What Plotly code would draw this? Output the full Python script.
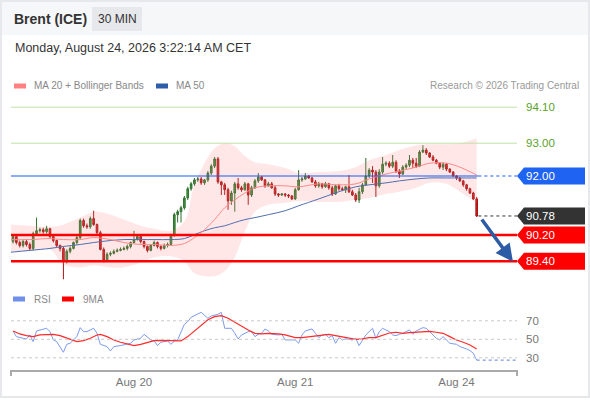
import plotly.graph_objects as go

# --- candles (30 min) ---
opens = [
    90.00, 90.15, 89.97, 89.88, 90.00, 89.91, 89.79, 90.24, 90.33, 90.36,
    90.30, 90.39, 90.15, 90.03, 89.88, 89.79, 89.39, 89.70, 89.79, 89.97,
    90.12, 90.64, 90.48, 90.45, 90.70, 90.52, 90.27, 89.76, 89.42, 89.61,
    89.64, 89.70, 89.73, 89.76, 89.79, 89.85, 89.97, 90.06, 90.15, 90.00,
    89.85, 89.73, 89.88, 89.97, 89.85, 89.79, 89.88, 89.91, 90.18, 90.82,
    90.91, 91.03, 91.33, 91.61, 91.76, 91.88, 91.91, 91.79, 91.88, 92.09,
    92.30, 92.52, 91.82, 91.73, 91.58, 91.24, 91.48, 91.76, 91.64, 91.58,
    91.76, 91.42, 91.64, 91.85, 91.97, 91.88, 91.70, 91.76, 91.64, 91.45,
    91.42, 91.45, 91.42, 91.39, 91.30, 91.58, 91.88, 91.91, 92.00, 91.94,
    91.82, 91.70, 91.76, 91.67, 91.76, 91.64, 91.45, 91.70, 91.61, 91.58,
    91.67, 91.52, 91.42, 91.27, 91.52, 91.73, 92.00, 92.18, 92.12, 91.70,
    92.12, 92.36, 92.39, 92.30, 92.42, 92.15, 92.06, 92.27, 92.33, 92.48,
    92.39, 92.30, 92.73, 92.79, 92.70, 92.58, 92.48, 92.39, 92.27, 92.36,
    92.21, 92.12, 92.00, 91.94, 91.85, 91.73, 91.61, 91.48, 91.30,
]
highs = [
    90.21, 90.18, 90.03, 90.06, 90.06, 89.97, 90.30, 90.73, 90.42, 90.42,
    90.48, 90.42, 90.18, 90.06, 89.91, 89.85, 89.76, 89.85, 90.00, 90.18,
    90.70, 90.70, 90.55, 90.76, 90.94, 90.55, 90.33, 89.82, 89.67, 89.70,
    89.76, 89.79, 89.82, 89.85, 89.91, 90.00, 90.33, 90.21, 90.18, 90.03,
    89.88, 89.91, 90.03, 90.00, 89.88, 89.94, 89.97, 90.24, 90.88, 90.97,
    91.09, 91.39, 91.67, 91.82, 91.94, 91.97, 91.97, 91.91, 92.15, 92.36,
    92.58, 92.58, 91.85, 91.79, 91.64, 91.55, 91.82, 91.94, 91.70, 91.82,
    91.79, 91.70, 91.91, 92.09, 92.00, 91.91, 91.82, 91.82, 91.70, 91.48,
    91.48, 91.48, 91.45, 91.42, 91.64, 92.18, 91.97, 92.09, 92.03, 91.97,
    91.88, 91.82, 91.79, 91.82, 91.79, 91.70, 91.73, 91.76, 91.67, 91.70,
    92.03, 91.58, 91.48, 91.64, 91.79, 92.55, 92.24, 92.30, 92.18, 92.21,
    92.58, 92.45, 92.45, 92.64, 92.48, 92.21, 92.33, 92.39, 92.64, 92.55,
    92.55, 92.79, 92.94, 92.85, 92.73, 92.64, 92.52, 92.42, 92.42, 92.39,
    92.24, 92.15, 92.03, 91.97, 91.88, 91.76, 91.64, 91.52, 91.36,
]
lows = [
    89.94, 89.91, 89.82, 89.82, 89.85, 89.73, 89.73, 90.21, 90.27, 90.24,
    90.24, 90.09, 89.97, 89.82, 89.70, 88.85, 89.33, 89.64, 89.76, 89.91,
    90.06, 90.42, 90.39, 90.39, 90.48, 90.21, 89.73, 89.36, 89.39, 89.55,
    89.61, 89.67, 89.70, 89.73, 89.73, 89.79, 89.94, 90.03, 89.94, 89.79,
    89.67, 89.70, 89.85, 89.79, 89.73, 89.76, 89.82, 89.88, 90.15, 90.58,
    90.58, 90.97, 91.27, 91.55, 91.70, 91.82, 91.73, 91.73, 91.82, 92.03,
    92.24, 91.76, 91.42, 91.42, 90.97, 91.12, 90.91, 91.58, 91.52, 91.55,
    91.12, 91.36, 91.61, 91.79, 91.85, 91.64, 91.67, 91.61, 91.39, 91.36,
    91.39, 91.36, 91.33, 91.27, 91.27, 91.55, 91.82, 91.88, 91.91, 91.79,
    91.64, 91.64, 91.61, 91.64, 91.58, 91.39, 91.42, 91.55, 91.55, 91.48,
    91.48, 91.39, 91.21, 91.18, 91.45, 91.70, 91.94, 91.79, 91.36, 91.64,
    92.06, 92.30, 92.24, 92.24, 92.09, 91.94, 92.03, 92.21, 92.27, 92.24,
    92.24, 92.27, 92.70, 92.64, 92.55, 92.45, 92.36, 92.21, 92.18, 92.15,
    92.09, 91.97, 91.88, 91.82, 91.67, 91.55, 91.45, 91.27, 90.75,
]
closes = [
    90.15, 89.97, 89.88, 90.00, 89.91, 89.79, 90.24, 90.33, 90.36, 90.30,
    90.39, 90.15, 90.03, 89.88, 89.79, 89.39, 89.70, 89.79, 89.97, 90.12,
    90.64, 90.48, 90.45, 90.70, 90.52, 90.27, 89.76, 89.42, 89.61, 89.64,
    89.70, 89.73, 89.76, 89.79, 89.85, 89.97, 90.06, 90.15, 90.00, 89.85,
    89.73, 89.88, 89.97, 89.85, 89.79, 89.88, 89.91, 90.18, 90.82, 90.91,
    91.03, 91.33, 91.61, 91.76, 91.88, 91.91, 91.79, 91.88, 92.09, 92.30,
    92.52, 91.82, 91.73, 91.58, 91.24, 91.48, 91.76, 91.64, 91.58, 91.76,
    91.42, 91.64, 91.85, 91.97, 91.88, 91.70, 91.76, 91.64, 91.45, 91.42,
    91.45, 91.42, 91.39, 91.30, 91.58, 91.88, 91.91, 92.00, 91.94, 91.82,
    91.70, 91.76, 91.67, 91.76, 91.64, 91.45, 91.70, 91.61, 91.58, 91.67,
    91.52, 91.42, 91.27, 91.52, 91.73, 92.00, 92.18, 92.12, 91.70, 92.12,
    92.36, 92.39, 92.30, 92.42, 92.15, 92.06, 92.27, 92.33, 92.48, 92.39,
    92.30, 92.73, 92.79, 92.70, 92.58, 92.48, 92.39, 92.27, 92.36, 92.21,
    92.12, 92.00, 91.94, 91.85, 91.73, 91.61, 91.48, 91.30, 90.78,
]

# --- MA 20 + Bollinger, MA 50 (read at sampled candles) ---
ind_idx = [-1, 5, 11, 15, 20, 24, 29, 33, 38, 42, 47, 51, 54, 57, 60, 63, 66,
           69, 72, 76, 81, 85, 91, 97, 102, 106, 111, 115, 120, 124, 129, 133, 138]
bb_upper = [90.52, 90.48, 90.45, 90.52, 90.73, 90.91, 90.82, 90.67, 90.48, 90.39,
            90.33, 90.61, 91.73, 92.39, 92.85, 93.00, 92.91, 92.61, 92.42, 92.36,
            92.24, 92.09, 92.12, 92.15, 92.27, 92.48, 92.64, 92.79, 92.94, 92.97,
            92.97, 93.00, 93.15]
bb_lower = [89.70, 89.70, 89.76, 89.30, 89.21, 89.27, 89.21, 89.21, 89.36, 89.52,
            89.55, 89.39, 89.03, 88.94, 88.94, 89.09, 89.52, 90.30, 90.91, 91.12,
            91.18, 91.24, 91.21, 91.21, 91.27, 91.33, 91.45, 91.52, 91.64, 91.79,
            91.76, 91.52, 91.18]
ma20 = [90.06, 90.06, 90.09, 90.06, 90.06, 90.12, 90.06, 89.97, 89.91, 89.91,
        89.88, 89.94, 90.12, 90.36, 90.67, 91.03, 91.27, 91.48, 91.64, 91.70,
        91.70, 91.67, 91.76, 91.73, 91.76, 91.91, 92.06, 92.15, 92.27, 92.39,
        92.39, 92.27, 92.03]
ma50 = [89.67, 89.73, 89.79, 89.85, 89.91, 89.97, 90.03, 90.06, 90.06, 90.06,
        90.06, 90.09, 90.21, 90.33, 90.42, 90.48, 90.58, 90.67, 90.73, 90.82,
        90.94, 91.09, 91.30, 91.52, 91.67, 91.73, 91.79, 91.85, 91.91, 91.94,
        91.94, 91.94, 91.94]

# --- RSI ---
rsi_idx = [0, 1, 3, 4, 5, 6, 7, 8, 10, 11, 12, 13, 14, 15, 16, 17, 19, 20, 21, 22,
           24, 25, 26, 28, 29, 30, 32, 33, 35, 36, 38, 39, 41, 42, 43, 44, 46, 47,
           48, 49, 51, 52, 53, 55, 56, 58, 59, 61, 62, 63, 65, 66, 67, 68, 70, 71,
           72, 73, 74, 75, 76, 77, 79, 80, 81, 82, 84, 85, 86, 87, 89, 90, 91, 92,
           93, 94, 95, 96, 97, 98, 99, 101, 102, 103, 104, 105, 107, 108, 109, 110,
           111, 112, 113, 114, 115, 116, 118, 119, 120, 122, 123, 124, 125, 126,
           127, 128, 129, 130, 132, 133, 135, 136, 137, 138]
rsi = [59.0, 52.9, 51.1, 50.4, 54.7, 47.5, 59.0, 60.1, 61.9, 58.3, 49.3, 47.5,
       42.1, 36.0, 44.6, 45.7, 52.9, 62.6, 58.3, 58.3, 61.9, 56.5, 44.6, 42.1,
       37.4, 42.1, 43.2, 43.9, 45.7, 49.3, 51.1, 55.4, 49.3, 48.2, 43.2, 46.8,
       48.2, 44.6, 48.2, 49.3, 66.2, 69.1, 73.8, 77.4, 79.2, 72.7, 75.2, 77.0,
       79.2, 61.9, 61.9, 56.5, 50.4, 54.7, 58.3, 58.3, 52.9, 55.4, 56.5, 61.2,
       59.0, 55.4, 54.7, 55.4, 49.3, 49.3, 49.3, 45.7, 54.7, 59.0, 61.2, 56.5,
       51.8, 54.7, 55.4, 51.8, 54.0, 45.7, 51.8, 49.3, 50.4, 49.3, 51.1, 43.2,
       49.3, 54.7, 61.9, 51.1, 58.3, 61.9, 60.1, 58.3, 54.7, 54.0, 55.4, 56.5,
       60.1, 55.4, 59.0, 62.6, 61.9, 58.3, 54.7, 51.1, 49.3, 52.9, 49.3, 45.7,
       44.6, 42.1, 39.6, 37.8, 34.9, 27.5]
ma9_idx = [0, 2, 4, 6, 8, 10, 12, 14, 16, 18, 19, 21, 23, 25, 26, 28, 30, 32, 34,
           36, 38, 40, 42, 44, 46, 48, 50, 52, 54, 56, 58, 60, 62, 64, 66, 68, 70,
           72, 74, 76, 77, 79, 81, 83, 84, 86, 88, 90, 92, 94, 96, 98, 100, 102,
           104, 106, 108, 110, 112, 114, 116, 118, 120, 122, 124, 126, 128, 130,
           132, 134, 136, 138]
ma9 = [59.0, 55.8, 54.0, 52.9, 54.7, 55.4, 55.4, 54.0, 51.1, 48.6, 47.5, 48.6,
       51.1, 54.7, 55.4, 52.9, 49.3, 46.8, 44.6, 43.2, 44.6, 46.8, 48.6, 48.9,
       48.9, 48.2, 48.2, 52.9, 59.0, 65.5, 71.2, 74.5, 75.6, 72.7, 68.4, 63.7,
       60.1, 56.5, 55.8, 56.5, 56.5, 55.8, 54.7, 52.9, 51.8, 51.8, 52.9, 54.0,
       54.7, 55.4, 54.0, 52.9, 51.8, 50.0, 50.4, 51.8, 51.8, 54.0, 56.8, 57.6,
       56.5, 57.2, 57.9, 58.3, 58.6, 57.6, 56.5, 52.9, 49.3, 46.8, 43.9, 39.6]

levels = [94.10, 93.00, 92.00, 90.78, 90.20, 89.40]
day_labels = ["Aug 20", "Aug 21", "Aug 24"]
day_idx = [36, 84, 132]

FONT = "Liberation Sans, Arial, sans-serif"
W, H = 590, 400
L, R = 11, 517  # plot area in pixels
X_END = 150      # right edge of the time axis, in candles


def px(x):
    return (x - L) / (R - L)


def py(y):
    return (H - y) / H


candle_x = list(range(len(closes)))
last_x = candle_x[-1] + 0.5

fig = go.Figure()

# bollinger band
fig.add_trace(go.Scatter(x=ind_idx, y=bb_upper, mode="lines", line=dict(width=0, shape="spline"),
                         hoverinfo="skip"))
fig.add_trace(go.Scatter(x=ind_idx, y=bb_lower, mode="lines", line=dict(width=0, shape="spline"),
                         fill="tonexty", fillcolor="rgba(255,120,120,0.18)", hoverinfo="skip"))
fig.add_trace(go.Scatter(x=ind_idx, y=ma50, mode="lines",
                         line=dict(color="#4f6fb0", width=1, shape="spline")))
fig.add_trace(go.Scatter(x=ind_idx, y=ma20, mode="lines",
                         line=dict(color="#f88", width=1, shape="spline")))

fig.add_trace(go.Candlestick(
    x=candle_x, open=opens, high=highs, low=lows, close=closes,
    increasing=dict(line=dict(color="#2f6f2f", width=1), fillcolor="#3d9a3d"),
    decreasing=dict(line=dict(color="#a31515", width=1), fillcolor="#e02020"),
    whiskerwidth=0,
))

# RSI panel
fig.add_trace(go.Scatter(x=rsi_idx, y=rsi, mode="lines", xaxis="x2", yaxis="y2",
                         line=dict(color="#7d9bef", width=1)))
fig.add_trace(go.Scatter(x=[rsi_idx[-1], X_END], y=[rsi[-1], rsi[-1]], mode="lines",
                         xaxis="x2", yaxis="y2",
                         line=dict(color="#5b7fe8", width=1, dash="dot")))
fig.add_trace(go.Scatter(x=ma9_idx, y=ma9, mode="lines", xaxis="x2", yaxis="y2",
                         line=dict(color="#ff2a2a", width=1.2)))

shapes = []
annotations = []

# header strip + frame
shapes.append(dict(type="rect", xref="paper", yref="paper", x0=px(0), x1=px(W), y0=py(35), y1=py(0),
                   fillcolor="#f6f7f9", line=dict(width=0), layer="below"))
shapes.append(dict(type="rect", xref="paper", yref="paper", x0=px(92), x1=px(142), y0=py(31), y1=py(7),
                   fillcolor="#e6e8eb", line=dict(width=0)))
shapes.append(dict(type="rect", xref="paper", yref="paper", x0=px(1), x1=px(589), y0=py(397), y1=py(1),
                   line=dict(color="#e6e8eb", width=2)))

annotations += [
    dict(text="<b>Brent (ICE)</b>", x=px(12), y=py(19), font=dict(size=14, color="#333")),
    dict(text="30 MIN", x=px(117), y=py(19), xanchor="center", font=dict(size=12, color="#333")),
    dict(text="Monday, August 24, 2026 3:22:14 AM CET", x=px(13), y=py(48),
         font=dict(size=12.5, color="#333")),
    dict(text="MA 20 + Bollinger Bands", x=px(32), y=py(86), font=dict(size=10, color="#888")),
    dict(text="MA 50", x=px(174), y=py(86), font=dict(size=10, color="#888")),
    dict(text="Research © 2026 Trading Central", x=px(581), y=py(86), xanchor="right",
         font=dict(size=10, color="#999")),
    dict(text="RSI", x=px(32), y=py(299), font=dict(size=10, color="#888")),
    dict(text="9MA", x=px(81), y=py(299), font=dict(size=10, color="#888")),
]
for x0, color, yy in [(14, "#ff8080", 86), (156, "#2f5ea8", 86), (13, "#6f8fe8", 299), (62, "#ff0000", 299)]:
    shapes.append(dict(type="rect", xref="paper", yref="paper", x0=px(x0), x1=px(x0 + 12),
                       y0=py(yy + 2.5), y1=py(yy - 2.5), fillcolor=color, line=dict(width=0)))

# horizontal levels and right side labels
level_style = {
    94.10: ("#bfe0a8", 1, "#5aa22a", None),
    93.00: ("#bfe0a8", 1, "#5aa22a", None),
    92.00: ("#1a5cf5", 1.2, "white", "#1f63f2"),
    90.78: (None, 0, "white", "#333333"),
    90.20: ("#ff0000", 2.5, "white", "#ff0000"),
    89.40: ("#ff0000", 2.5, "white", "#ff0000"),
}
unit = 32.77  # pixels per price unit
for lv in levels:
    lcolor, lw, tcolor, box = level_style[lv]
    if lv == 92.00:
        # solid under the candles, dotted after the last one
        shapes.append(dict(type="line", xref="x", yref="y", x0=-0.6, x1=last_x, y0=lv, y1=lv,
                           line=dict(color=lcolor, width=lw)))
        shapes.append(dict(type="line", xref="x", yref="y", x0=last_x, x1=X_END, y0=lv, y1=lv,
                           line=dict(color=lcolor, width=lw, dash="dot")))
    elif lcolor:
        shapes.append(dict(type="line", xref="paper", yref="y", x0=0, x1=1, y0=lv, y1=lv,
                           line=dict(color=lcolor, width=lw)))
    if box:
        h = 8.5 / unit
        xt, xb, xr = 1.0, px(524), px(585)
        shapes.append(dict(type="path", xref="paper", yref="y",
                           path=f"M {xt},{lv} L {xb},{lv + h} L {xr},{lv + h} L {xr},{lv - h} L {xb},{lv - h} Z",
                           fillcolor=box, line=dict(width=0)))
    annotations.append(dict(text=f"{lv:.2f}", x=px(524), y=lv, yref="y", xref="paper",
                            yanchor="middle", font=dict(size=11.5, color=tcolor)))

# dotted line from the last close
shapes.append(dict(type="line", xref="x", yref="y", x0=last_x, x1=X_END, y0=closes[-1], y1=closes[-1],
                   line=dict(color="#333", width=1, dash="dot")))

# projected move
annotations.append(dict(x=148.8, y=89.38, ax=139.2, ay=90.72, xref="x", yref="y", axref="x", ayref="y",
                        text="", showarrow=True, arrowhead=2, arrowsize=1, arrowwidth=3.5,
                        arrowcolor="#2d5ca6"))

# RSI guide lines
for v in [70, 50, 30]:
    shapes.append(dict(type="line", xref="paper", yref="y2", x0=0, x1=1, y0=v, y1=v,
                       line=dict(color="#c8c8c8", width=1, dash="dot")))
    annotations.append(dict(text=str(v), x=px(524), y=v, xref="paper", yref="y2", yanchor="middle",
                            font=dict(size=11.5, color="#777")))

# end ticks on the time axis
for x0 in [0, 1]:
    shapes.append(dict(type="line", xref="paper", yref="paper", x0=x0, x1=x0, y0=py(370), y1=py(376),
                       line=dict(color="#aaa", width=2)))

for a in annotations:
    a.setdefault("xref", "paper")
    a.setdefault("yref", "paper")
    a.setdefault("showarrow", False)
    a.setdefault("xanchor", "left")
    a.setdefault("yanchor", "middle")

fig.update_layout(
    width=W, height=H,
    margin=dict(l=L, r=W - R, t=0, b=0),
    paper_bgcolor="white", plot_bgcolor="rgba(0,0,0,0)",
    font=dict(family=FONT),
    showlegend=False,
    shapes=shapes, annotations=annotations,
    xaxis=dict(range=[-0.6, X_END], visible=False, rangeslider=dict(visible=False), anchor="y"),
    yaxis=dict(range=[88.735, 94.41], domain=[py(283), py(97)], visible=False, fixedrange=True),
    xaxis2=dict(range=[-0.6, X_END], anchor="y2", showgrid=False, zeroline=False,
                showline=True, linecolor="#aaa", linewidth=2, ticks="",
                tickvals=day_idx, ticktext=day_labels,
                tickfont=dict(size=11.5, color="#777", family=FONT)),
    yaxis2=dict(range=[16.8, 87.1], domain=[py(370), py(305)], visible=False),
)

# the page body has a default 8px margin; drop it so the figure sits at 0,0
fig.write_html("out.html", config={"displayModeBar": False},
               post_script="document.body.style.margin = '0';")
